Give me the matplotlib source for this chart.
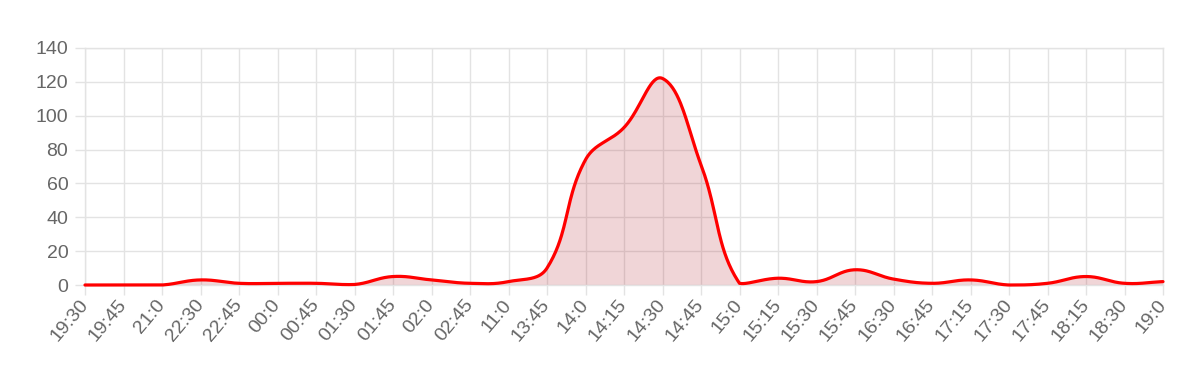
import numpy as np
import matplotlib
matplotlib.use("Agg")
import matplotlib.pyplot as plt

# time labels on the x axis (one point per label)
labels = ["19:30", "19:45", "21:0", "22:30", "22:45", "00:0", "00:45", "01:30",
          "01:45", "02:0", "02:45", "11:0", "13:45", "14:0", "14:15", "14:30",
          "14:45", "15:0", "15:15", "15:30", "15:45", "16:30", "16:45", "17:15",
          "17:30", "17:45", "18:15", "18:30", "19:0"]

# values
counts = [0, 0, 0, 3, 1, 1, 1, 0.3,
          5, 3, 1, 2, 10, 74, 93, 122,
          71, 1, 4, 2, 9, 3.5, 1, 3,
          0, 1, 5, 1, 2]

y_ticks = [0, 20, 40, 60, 80, 100, 120, 140]

W, H = 1200, 382
AX_LEFT, AX_RIGHT, AX_TOP, AX_BOTTOM = 85, 1163, 48, 285

GRID = "#e3e3e3"
TEXT = "#666666"


def bezier_curve(xs, ys, sx, sy, xlim, ylim, tension=0.4, steps=40):
    """Smooth the line the way chart.js does (tension + capped control points)."""
    px = np.asarray(xs, float) * sx
    py = np.asarray(ys, float) * sy
    n = len(px)
    cp_prev, cp_next = [], []
    for i in range(n):
        a = max(i - 1, 0)
        b = min(i + 1, n - 1)
        d01 = np.hypot(px[i] - px[a], py[i] - py[a])
        d12 = np.hypot(px[b] - px[i], py[b] - py[i])
        tot = d01 + d12
        s01 = d01 / tot if tot else 0
        s12 = d12 / tot if tot else 0
        dx, dy = px[b] - px[a], py[b] - py[a]
        p = np.array([px[i] - tension * s01 * dx, py[i] - tension * s01 * dy])
        q = np.array([px[i] + tension * s12 * dx, py[i] + tension * s12 * dy])
        # back to data units and clamp inside the plot area
        p = np.array([np.clip(p[0] / sx, *xlim), np.clip(p[1] / sy, *ylim)])
        q = np.array([np.clip(q[0] / sx, *xlim), np.clip(q[1] / sy, *ylim)])
        cp_prev.append(p)
        cp_next.append(q)

    t = np.linspace(0, 1, steps)[:, None]
    out = []
    for i in range(n - 1):
        p0 = np.array([xs[i], ys[i]], float)
        p3 = np.array([xs[i + 1], ys[i + 1]], float)
        p1, p2 = cp_next[i], cp_prev[i + 1]
        seg = ((1 - t) ** 3) * p0 + 3 * ((1 - t) ** 2) * t * p1 + 3 * (1 - t) * t ** 2 * p2 + t ** 3 * p3
        out.append(seg if i == 0 else seg[1:])
    out = np.vstack(out)
    return out[:, 0], out[:, 1]


def main():
    plt.rcParams["font.family"] = ["Liberation Sans", "DejaVu Sans"]

    fig = plt.figure(figsize=(W / 100, H / 100), dpi=100)
    ax = fig.add_axes([AX_LEFT / W, (H - AX_BOTTOM) / H,
                       (AX_RIGHT - AX_LEFT) / W, (AX_BOTTOM - AX_TOP) / H])

    x = np.arange(len(labels))
    ymax = y_ticks[-1]
    ax.set_xlim(0, len(labels) - 1)
    ax.set_ylim(0, ymax)

    sx = (AX_RIGHT - AX_LEFT) / (len(labels) - 1)
    sy = (AX_BOTTOM - AX_TOP) / ymax
    cx, cy = bezier_curve(x, counts, sx, sy, (0, len(labels) - 1), (0, ymax))

    ax.fill_between(cx, cy, 0, color=(180 / 255, 45 / 255, 55 / 255), alpha=0.2,
                    linewidth=0, zorder=2)
    ax.plot(cx, cy, color="#ff0000", linewidth=2.3, solid_joinstyle="round",
            solid_capstyle="round", clip_on=False, zorder=3)

    ax.set_xticks(x)
    ax.set_xticklabels(labels, rotation=50, ha="right", va="center",
                       rotation_mode="anchor")
    ax.set_yticks(y_ticks)
    ax.grid(True, color=GRID, linewidth=1.0)
    ax.set_axisbelow(True)
    for s in ax.spines.values():
        s.set_color(GRID)
        s.set_linewidth(1.0)
    ax.tick_params(axis="both", colors=GRID, labelcolor=TEXT, labelsize=14,
                   length=7, width=1.0)
    ax.tick_params(axis="x", pad=5)
    ax.tick_params(axis="y", pad=5)

    fig.savefig("out.png", dpi=100, facecolor="white")


if __name__ == "__main__":
    main()
